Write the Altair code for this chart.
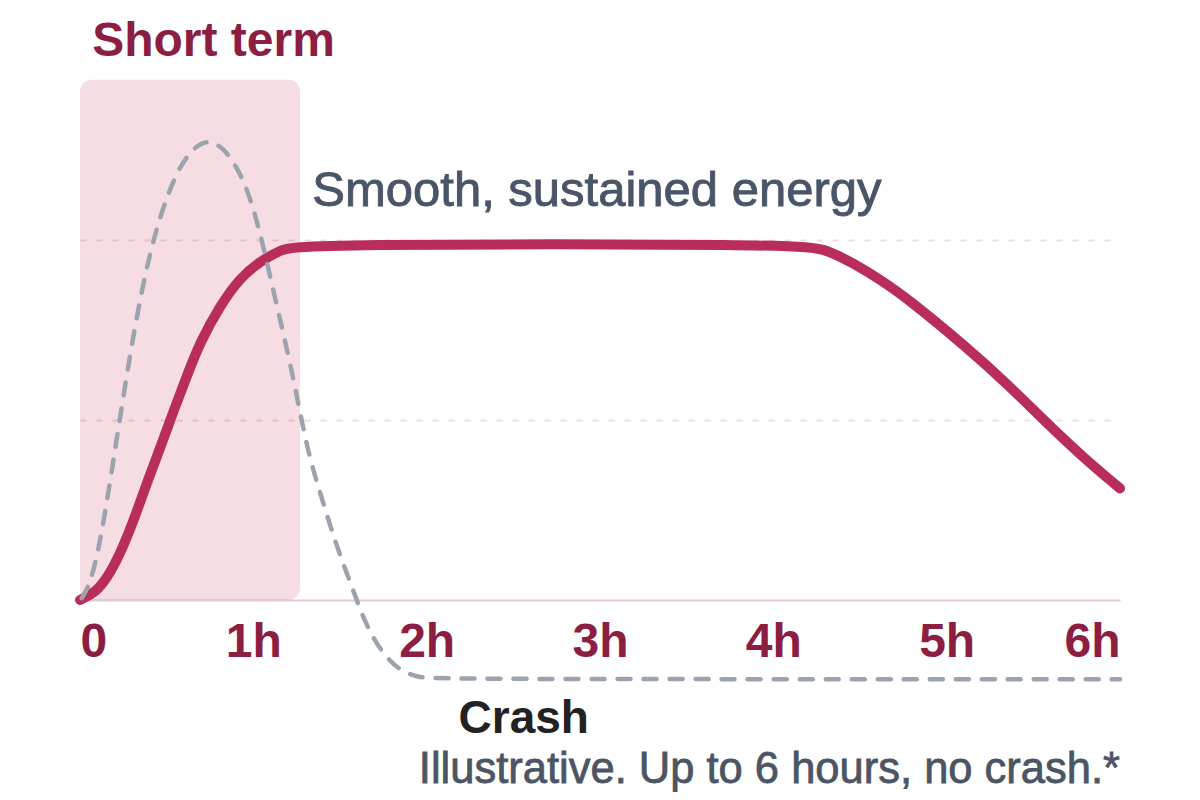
import pandas as pd
import altair as alt

# hours since intake and energy level (arbitrary units)
sustained_hours = [0, 0.087, 0.162, 0.242, 0.317, 0.392, 0.473, 0.548, 0.623, 0.692,
                   0.808, 0.923, 1.038, 1.154, 1.269, 4.17, 4.31, 4.46, 4.62, 4.77,
                   5.12, 5.35, 5.58, 5.79, 6.0]
sustained_level = [0, 0.039, 0.128, 0.278, 0.461, 0.667, 0.872, 1.072, 1.261, 1.43,
                   1.635, 1.79, 1.88, 1.944, 1.978, 1.978, 1.944, 1.872, 1.778, 1.678,
                   1.40, 1.20, 0.98, 0.79, 0.62]

crash_hours = [0.01, 0.06, 0.12, 0.20, 0.29, 0.38, 0.46, 0.56, 0.66, 0.75, 0.84,
               0.92, 0.98, 1.04, 1.12, 1.20, 1.26, 1.32, 1.40, 1.48, 1.57, 1.65,
               1.74, 1.84, 1.95, 2.05, 6.0]
crash_level = [0.01, 0.09, 0.33, 0.82, 1.38, 1.84, 2.13, 2.39, 2.52, 2.56, 2.50,
               2.38, 2.24, 2.04, 1.70, 1.37, 1.09, 0.80, 0.55, 0.30, 0.07, -0.14,
               -0.29, -0.39, -0.43, -0.44, -0.44]

tick_hours = [0, 1, 2, 3, 4, 5, 6]
grid_levels = [1, 2]

short_term = {"start": 0, "end": 1.27, "top": 2.89}

notes = pd.DataFrame({
    "text": ["Short term", "Smooth, sustained energy", "Crash",
             "Illustrative. Up to 6 hours, no crash.*"],
    "hour": [0.07, 1.34, 2.56, 6.0],
    "level": [3.02, 2.19, -0.74, -1.015],
})

FONT = "Liberation Sans"
MAROON = "#8b1e42"
CRIMSON = "#b92d5a"

x_scale = alt.Scale(domain=[0, 6], nice=False, zero=False)
y_scale = alt.Scale(domain=[0, 3], nice=False, zero=False)

sustained = pd.DataFrame({"hour": sustained_hours, "level": sustained_level})
crash = pd.DataFrame({"hour": crash_hours, "level": crash_level})

base_x = alt.X(
    "hour:Q", scale=x_scale, title=None,
    axis=alt.Axis(
        values=tick_hours, ticks=False, grid=False,
        labelExpr="datum.value == 0 ? '0' : datum.value + 'h'",
        labelFlush=True, labelPadding=18, labelFont=FONT, labelFontSize=48,
        labelFontWeight="bold", labelColor=MAROON,
        domainColor="#e6c7d0", domainWidth=2,
    ),
)
base_y = alt.Y(
    "level:Q", scale=y_scale, title=None,
    axis=alt.Axis(
        values=grid_levels, labels=False, ticks=False, domain=False,
        grid=True, gridColor="#eedce2", gridDash=[6, 10], gridWidth=2,
    ),
)

band = (
    alt.Chart(pd.DataFrame([short_term]))
    .mark_rect(color="#c8284f", opacity=0.16, cornerRadius=12)
    .encode(
        x=alt.X("start:Q", scale=x_scale),
        x2="end:Q",
        y=alt.Y("level0:Q", scale=y_scale),
        y2="top:Q",
    )
    .transform_calculate(level0="0")
)

sustained_line = (
    alt.Chart(sustained)
    .mark_line(color=CRIMSON, strokeWidth=10, strokeCap="round",
               strokeJoin="round", interpolate="basis")
    .encode(x=base_x, y=base_y)
)

crash_line = (
    alt.Chart(crash)
    .mark_line(color="#9ca3af", strokeWidth=4.5, strokeCap="round",
               strokeDash=[13, 13], interpolate="basis")
    .encode(x=alt.X("hour:Q", scale=x_scale), y=alt.Y("level:Q", scale=y_scale))
)

text_colors = ["#8b1e42", "#4a5568", "#222222", "#4b5563"]
text_sizes = [48, 49, 46, 43.5]
text_weights = ["bold", "normal", "bold", "normal"]
text_strokes = [0, 0.9, 0, 0.8]
text_aligns = ["left", "left", "center", "right"]

labels = []
for i, row in notes.iterrows():
    labels.append(
        alt.Chart(notes.iloc[[i]])
        .mark_text(font=FONT, fontSize=text_sizes[i], fontWeight=text_weights[i],
                   color=text_colors[i], stroke=text_colors[i],
                   strokeWidth=text_strokes[i], align=text_aligns[i],
                   baseline="alphabetic")
        .encode(x=alt.X("hour:Q", scale=x_scale), y=alt.Y("level:Q", scale=y_scale),
                text="text:N")
    )

chart = (
    alt.layer(band, sustained_line, crash_line, *labels)
    .properties(
        width=1040, height=540,
        background="white",
        autosize=alt.AutoSizeParams(type="none"),
        padding={"left": 72, "top": 52, "right": 72, "bottom": 192},
    )
    .configure_view(strokeWidth=0)
)

chart.save("out.html", embed_options={"renderer": "svg", "actions": False})
